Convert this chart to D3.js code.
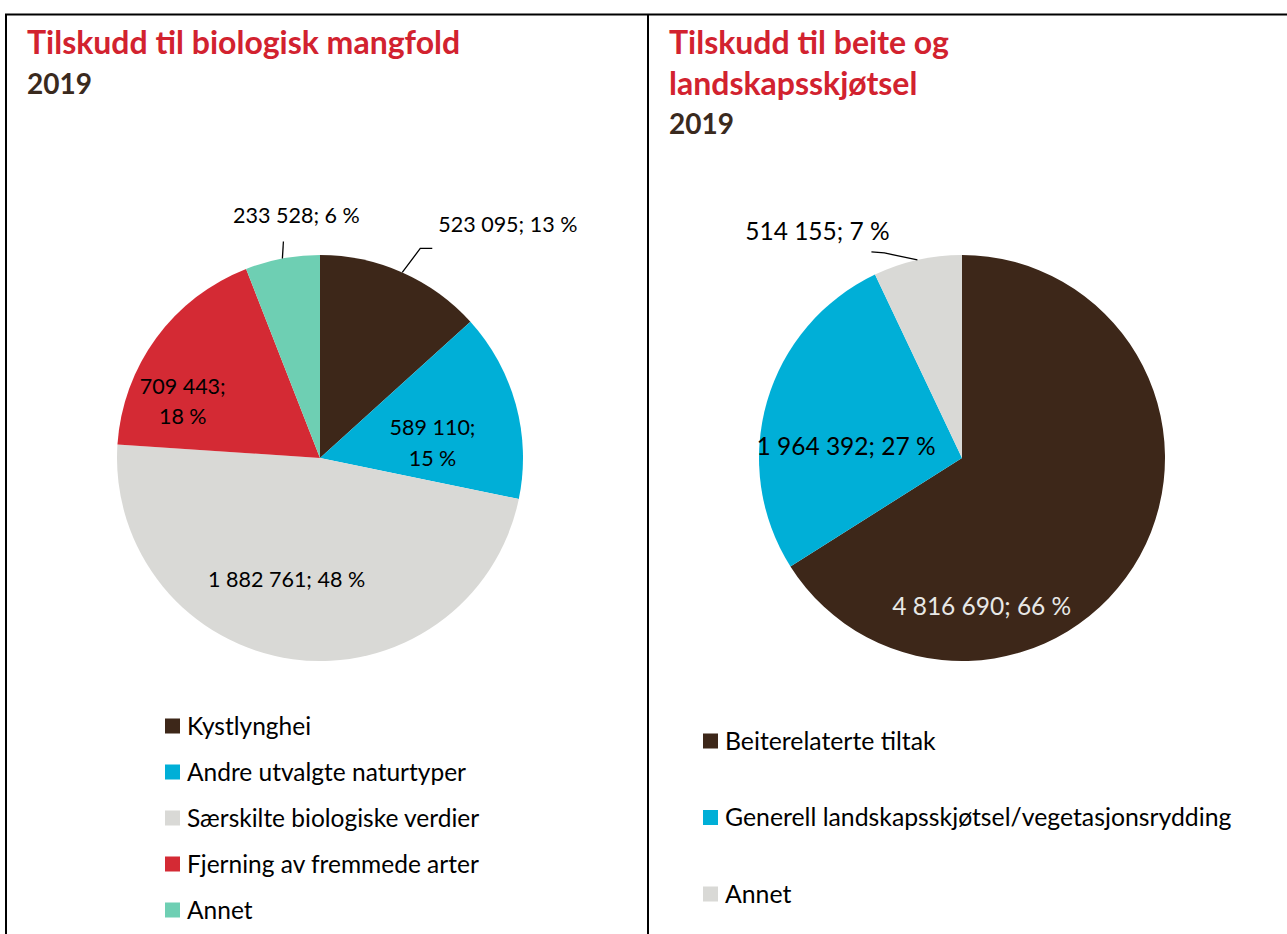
<!DOCTYPE html>
<html>
<head>
<meta charset="utf-8">
<script src="https://cdn.jsdelivr.net/npm/d3@7"></script>
<style>
  body { margin: 0; background: #fff; }
  svg { display: block; font-family: Lato, "Open Sans", sans-serif; }
</style>
</head>
<body>
<div id="chart"></div>
<script>
// left pie: Tilskudd til biologisk mangfold
const bioCategories = ["Kystlynghei", "Andre utvalgte naturtyper", "Særskilte biologiske verdier", "Fjerning av fremmede arter", "Annet"];
const bioValues = [523095, 589110, 1882761, 709443, 233528];
const bioColors = ["#3d2719", "#00afd7", "#d9d9d6", "#d42a34", "#6ecfb3"];

// right pie: Tilskudd til beite og landskapsskjøtsel
const beiteCategories = ["Beiterelaterte tiltak", "Generell landskapsskjøtsel/vegetasjonsrydding", "Annet"];
const beiteValues = [4816690, 1964392, 514155];
const beiteColors = ["#3d2719", "#00afd7", "#d9d9d6"];

const width = 1287, height = 934;
const radius = 203;
const titleRed = "#d2222f", yearBrown = "#3a2a1e";

const svg = d3.select("#chart").append("svg")
    .attr("width", width)
    .attr("height", height);

// frame lines
const frame = svg.append("g").attr("stroke", "#000").attr("stroke-width", 2);
frame.append("line").attr("x1", 5).attr("x2", width).attr("y1", 14.5).attr("y2", 14.5);
frame.append("line").attr("x1", 6).attr("x2", 6).attr("y1", 14).attr("y2", height);
frame.append("line").attr("x1", 648).attr("x2", 648).attr("y1", 14).attr("y2", height);

function fmt(v) {
    // norwegian style thousands separator
    return d3.format(",")(v).replace(/,/g, " ");
}

function drawTitle(x, lines, year, yStart) {
    const g = svg.append("g").attr("font-weight", "bold").attr("font-size", 32);
    lines.forEach((t, i) => {
        g.append("text").attr("x", x).attr("y", yStart + i * 41)
            .attr("fill", titleRed).text(t);
    });
    g.append("text").attr("x", x).attr("y", yStart + lines.length * 40)
        .attr("fill", yearBrown).attr("font-size", 28).text(year);
}

// inside labels sit on the slice centroid (radius factor r) plus a nudge;
// outside labels get a leader line from the slice edge
function drawPie(cx, cy, values, colors, labelCfg, fontSize) {
    const total = d3.sum(values);
    const pie = d3.pie().sort(null).value(d => d)(values);
    const arc = d3.arc().innerRadius(0).outerRadius(radius);
    const g = svg.append("g").attr("transform", `translate(${cx},${cy})`);

    g.selectAll("path")
        .data(pie)
        .join("path")
        .attr("d", arc)
        .attr("fill", (d, i) => colors[i]);

    const lab = g.append("g").attr("font-size", fontSize);
    pie.forEach((d, i) => {
        const cfg = labelCfg[i];
        const pct = Math.round(d.value / total * 100);
        const num = fmt(d.value);
        const mid = (d.startAngle + d.endAngle) / 2;
        if (cfg.outside) {
            const ex = radius * Math.sin(mid), ey = -radius * Math.cos(mid);
            const pts = [[ex, ey]].concat(cfg.leader.map(p => [ex + p[0], ey + p[1]]));
            lab.append("path")
                .attr("d", d3.line()(pts))
                .attr("fill", "none")
                .attr("stroke", "#000")
                .attr("stroke-width", 1.3);
            lab.append("text")
                .attr("x", ex + cfg.text[0]).attr("y", ey + cfg.text[1])
                .attr("text-anchor", cfg.anchor)
                .attr("dy", "0.35em")
                .attr("fill", "#000")
                .text(`${num}; ${pct} %`);
        } else {
            const rr = radius * cfg.r;
            const x = rr * Math.sin(mid) + cfg.dx, y = -rr * Math.cos(mid) + cfg.dy;
            const t = lab.append("text")
                .attr("x", x).attr("y", y)
                .attr("text-anchor", "middle")
                .attr("fill", cfg.color || "#000");
            if (cfg.split) {
                t.append("tspan").attr("x", x).attr("dy", "-0.35em").text(`${num};`);
                t.append("tspan").attr("x", x).attr("dy", "1.4em").text(`${pct} %`);
            } else {
                t.attr("dy", "0.35em").text(`${num}; ${pct} %`);
            }
        }
    });
}

function drawLegend(x, y0, step, cats, colors, fontSize) {
    const g = svg.append("g").attr("transform", `translate(${x},${y0})`);
    const item = g.selectAll("g")
        .data(cats)
        .join("g")
        .attr("transform", (d, i) => `translate(0,${i * step})`);
    item.append("rect")
        .attr("x", 0).attr("y", -7.5)
        .attr("width", 15).attr("height", 15)
        .attr("fill", (d, i) => colors[i]);
    item.append("text")
        .attr("x", 22)
        .attr("dy", "0.35em")
        .attr("font-size", fontSize)
        .attr("fill", "#000")
        .text(d => d);
}

drawTitle(27, ["Tilskudd til biologisk mangfold"], "2019", 54);
drawTitle(669, ["Tilskudd til beite og", "landskapsskjøtsel"], "2019", 54);

drawPie(320, 458, bioValues, bioColors, [
    { outside: true, leader: [[18, -24], [30, -24]], text: [36, -48], anchor: "start" },
    { r: 0.6, dx: -5, dy: 17, split: true },
    { r: 0.6, dx: -17, dy: 1 },
    { r: 0.6, dx: -39, dy: 15, split: true },
    { outside: true, leader: [[1, -17]], text: [14, -43], anchor: "middle" }
], 21.5);

drawPie(962, 458, beiteValues, beiteColors, [
    { r: 0.6, dx: -87, dy: 90, color: "#e8e8e6" },
    { r: 0.6, dx: 1, dy: 22 },
    { outside: true, leader: [[-33, -7], [-46, -8]], text: [-100, -29], anchor: "middle" }
], 24.5);

drawLegend(165, 726, 46, bioCategories, bioColors, 24.5);
drawLegend(703, 741, 76.5, beiteCategories, beiteColors, 24.8);
</script>
</body>
</html>
